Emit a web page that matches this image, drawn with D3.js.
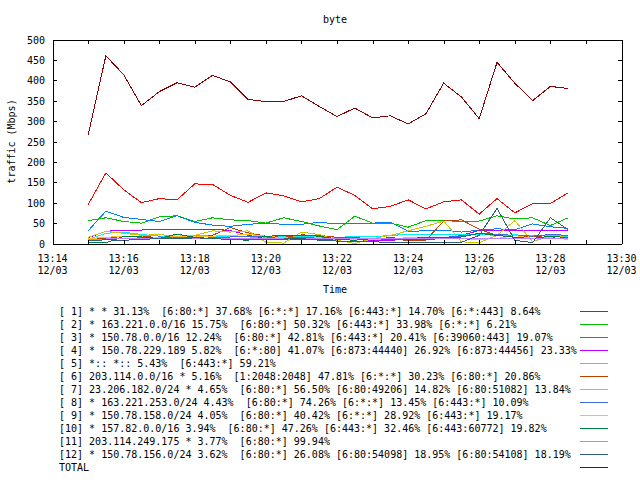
<!DOCTYPE html>
<html><head><meta charset="utf-8">
<script src="https://cdn.jsdelivr.net/npm/d3@7"></script>
<style>
html,body{margin:0;padding:0;background:#fff;}
svg text{font-family:"DejaVu Sans Mono",monospace;font-size:10px;fill:#000;white-space:pre;}
</style></head>
<body><svg id="c" width="640" height="480"></svg>
<script>
const times = ["13:15:00","13:15:30","13:16:00","13:16:30","13:17:00","13:17:30","13:18:00","13:18:30","13:19:00","13:19:30",
  "13:20:00","13:20:30","13:21:00","13:21:30","13:22:00","13:22:30","13:23:00","13:23:30","13:24:00","13:24:30",
  "13:25:00","13:25:30","13:26:00","13:26:30","13:27:00","13:27:30","13:28:00","13:28:30"];
const s1  = [95,173,132,100,110,107,146,145,118,101,124,117,102,110,138,118,85,91,107,85,102,107,72,110,75,98,98,124];
const s2  = [56,63,54,50,65,68,54,63,58,56,50,63,54,43,34,67,50,50,40,56,56,54,55,68,60,63,44,63];
const s3  = [31,79,64,59,54,68,52,45,42,47,50,47,47,52,48,50,50,52,30,31,33,28,33,36,34,48,41,37];
const s4  = [14,30,33,33,35,35,35,35,32,20,12,10,10,10,9,9,8,8,10,10,12,20,32,31,32,32,32,31];
const s5  = [10,25,28,22,18,16,20,18,17,16,15,17,16,18,15,17,16,20,22,23,22,23,22,20,21,20,19,18];
const s6  = [10,12,18,17,15,14,14,20,39,26,18,15,21,20,15,14,12,10,8,8,55,58,35,20,15,18,14,12];
const s7  = [15,30,25,20,22,18,20,31,28,31,3,1,28,22,8,0,12,20,31,42,55,4,2,20,56,5,18,15];
const s8  = [8,10,12,14,16,15,12,14,16,18,16,14,15,16,12,11,10,12,14,13,15,18,25,22,20,18,22,20];
const s9  = [12,15,18,16,15,18,17,18,20,22,18,14,12,14,10,9,10,12,14,15,14,12,10,12,20,12,14,10];
const s10 = [3,2,17,16,12,23,15,12,10,8,18,19,20,18,10,8,12,14,12,15,14,16,25,20,15,12,18,14];
const s11 = [10,11,12,12,13,13,12,12,13,12,12,11,12,12,12,11,12,12,12,11,12,12,12,12,12,11,12,12];
const s12 = [7,9,8,10,12,11,14,12,10,9,10,11,12,8,6,5,4,3,2,2,3,3,20,86,8,2,63,34];
const total = [265,460,414,338,372,394,383,412,396,353,348,348,362,336,311,332,308,313,293,318,393,359,306,444,393,350,385,380];
const labels = [
 "[ 1] * * 31.13%  [6:80:*] 37.68% [6:*:*] 17.16% [6:443:*] 14.70% [6:*:443] 8.64%",
 "[ 2] * 163.221.0.0/16 15.75%  [6:80:*] 50.32% [6:443:*] 33.98% [6:*:*] 6.21%",
 "[ 3] * 150.78.0.0/16 12.24%  [6:80:*] 42.81% [6:443:*] 20.41% [6:39060:443] 19.07%",
 "[ 4] * 150.78.229.189 5.82%  [6:*:80] 41.07% [6:873:44440] 26.92% [6:873:44456] 23.33%",
 "[ 5] *:: *:: 5.43%  [6:443:*] 59.21%",
 "[ 6] 203.114.0.0/16 * 5.16%  [1:2048:2048] 47.81% [6:*:*] 30.23% [6:80:*] 20.86%",
 "[ 7] 23.206.182.0/24 * 4.65%  [6:80:*] 56.50% [6:80:49206] 14.82% [6:80:51082] 13.84%",
 "[ 8] * 163.221.253.0/24 4.43%  [6:80:*] 74.26% [6:*:*] 13.45% [6:443:*] 10.09%",
 "[ 9] * 150.78.158.0/24 4.05%  [6:80:*] 40.42% [6:*:*] 28.92% [6:443:*] 19.17%",
 "[10] * 157.82.0.0/16 3.94%  [6:80:*] 47.26% [6:443:*] 32.46% [6:443:60772] 19.82%",
 "[11] 203.114.249.175 * 3.77%  [6:80:*] 99.94%",
 "[12] * 150.78.156.0/24 3.62%  [6:80:*] 26.08% [6:80:54098] 18.95% [6:80:54108] 18.19%",
 "TOTAL"];
const colors = ["#ff0000","#00c000","#0080ff","#c000ff","#00eeee","#c04000","#c8c800","#4169e1","#ffc020","#008040","#c080ff","#306080","#8b0000"];
const yTicks = [0,50,100,150,200,250,300,350,400,450,500];
const xStart = "13:14:00", xEnd = "13:30:00";
const title = "byte", yTitle = "traffic (Mbps)", xTitle = "Time", dateLabel = "12/03";

const series = [s1,s2,s3,s4,s5,s6,s7,s8,s9,s10,s11,s12,total];
const parse = d3.timeParse("%H:%M:%S");
const svg = d3.select("#c");
const L = 52.5, R = 621.5, T = 39.5, B = 243.5;
const x = d3.scaleTime().domain([parse(xStart), parse(xEnd)]).range([L, R]);
const y = d3.scaleLinear().domain([0, 500]).range([B, T]);

// series
const line = d3.line().x((d,i)=>x(parse(times[i]))).y(d=>y(d));
series.forEach((s,k)=>{
  svg.append("path").datum(s).attr("d", line).attr("fill","none")
    .attr("stroke", colors[k]).attr("stroke-width",1).attr("shape-rendering","crispEdges");
});

// axes
const minuteTicks = d3.timeMinute.every(1).range(parse(xStart), d3.timeSecond.offset(parse(xEnd),1));
const fmt = d3.timeFormat("%H:%M");
const xb = svg.append("g").attr("transform",`translate(0,${B})`)
  .call(d3.axisBottom(x).tickValues(minuteTicks).tickSize(-4).tickSizeOuter(0).tickFormat(""));
const xt = svg.append("g").attr("transform",`translate(0,${T})`)
  .call(d3.axisTop(x).tickValues(minuteTicks).tickSize(-4).tickSizeOuter(0).tickFormat(""));
const yl = svg.append("g").attr("transform",`translate(${L},0)`)
  .call(d3.axisLeft(y).tickValues(yTicks).tickSize(-4).tickSizeOuter(0).tickFormat(""));
const yr = svg.append("g").attr("transform",`translate(${R},0)`)
  .call(d3.axisRight(y).tickValues(yTicks).tickSize(-4).tickSizeOuter(0).tickFormat(""));
[xb,xt,yl,yr].forEach(g=>{g.selectAll("line,path").attr("stroke","#000").attr("shape-rendering","crispEdges");});

// y tick labels
yTicks.forEach(v=>{
  svg.append("text").attr("x",45).attr("y",y(v)+4).attr("text-anchor","end").text(v);
});
// x tick labels every 2 min
minuteTicks.filter(d=>d.getMinutes()%2===0).forEach(d=>{
  const t = svg.append("text").attr("text-anchor","middle");
  t.append("tspan").attr("x",x(d)).attr("y",261.5).text(fmt(d));
  t.append("tspan").attr("x",x(d)).attr("y",273.5).text(dateLabel);
});

// titles
svg.append("text").attr("x",335).attr("y",23).attr("text-anchor","middle").text(title);
svg.append("text").attr("x",335).attr("y",292.5).attr("text-anchor","middle").text(xTitle);
svg.append("text").attr("transform","translate(14.5,141.5) rotate(-90)").attr("text-anchor","middle").text(yTitle);

// legend
labels.forEach((lab,i)=>{
  const yy = 311.5 + i*13;
  svg.append("text").attr("x",59).attr("y",yy+3.5).text(lab);
  svg.append("line").attr("x1",580).attr("x2",608).attr("y1",yy).attr("y2",yy)
    .attr("stroke",colors[i]).attr("stroke-width",1).attr("shape-rendering","crispEdges");
});
</script></body></html>
